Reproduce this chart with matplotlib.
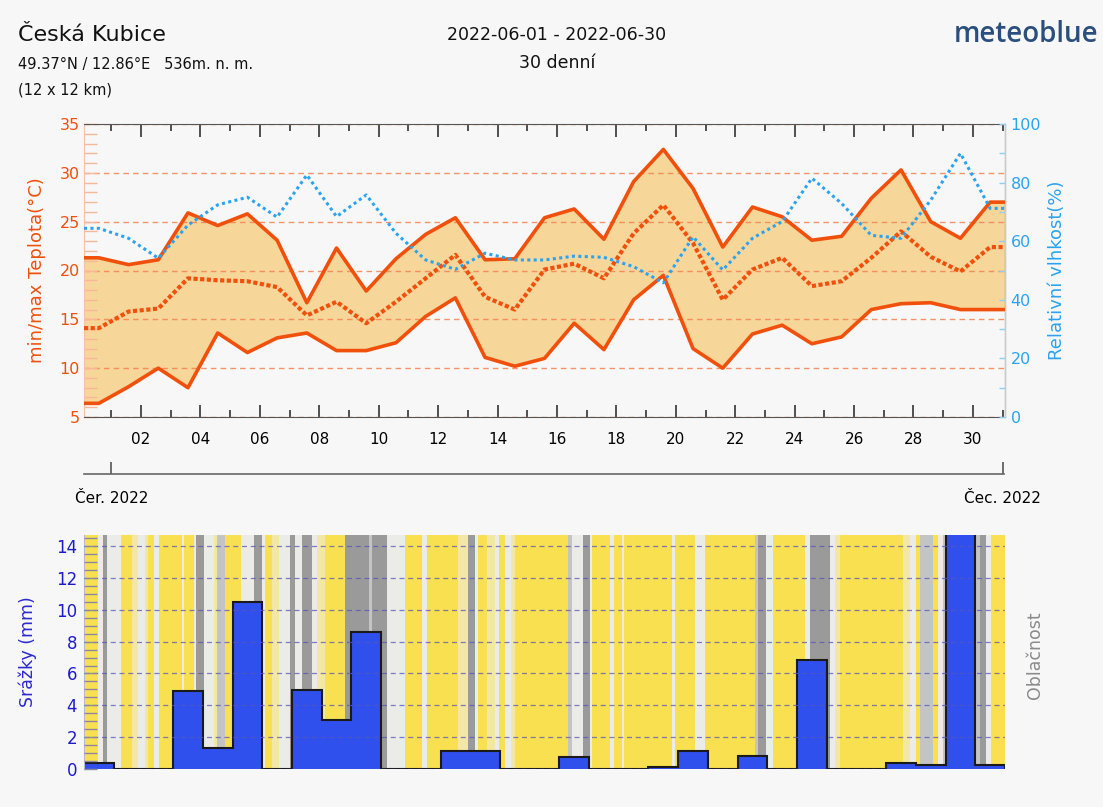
import numpy as np
import matplotlib
matplotlib.use("Agg")
import matplotlib.pyplot as plt
from matplotlib.ticker import MultipleLocator

# daily values, 31 slots covering the 30-day window (UTC shifted)
t_max = [21.3, 20.6, 21.1, 25.9, 24.6, 25.8, 23.1, 16.7, 22.3, 17.9, 21.2, 23.7, 25.4, 21.1, 21.2, 25.4,
         26.3, 23.2, 29.1, 32.4, 28.4, 22.4, 26.5, 25.5, 23.1, 23.5, 27.4, 30.3, 25.0, 23.3, 27.0]
t_mean = [14.1, 15.8, 16.1, 19.2, 19.0, 18.9, 18.3, 15.4, 16.8, 14.6, 16.8, 19.2, 21.6, 17.3, 16.0, 20.1,
          20.7, 19.2, 23.8, 26.7, 22.8, 17.0, 20.1, 21.3, 18.4, 18.9, 21.3, 24.0, 21.4, 19.9, 22.4]
t_min = [6.4, 8.1, 10.0, 8.0, 13.6, 11.6, 13.1, 13.6, 11.8, 11.8, 12.6, 15.3, 17.2, 11.1, 10.2, 11.0,
         14.6, 11.9, 17.0, 19.5, 12.0, 10.0, 13.5, 14.4, 12.5, 13.2, 16.0, 16.6, 16.7, 16.0, 16.0]
humidity = [64.4, 61.0, 54.2, 65.5, 72.4, 75.0, 68.2, 82.6, 68.4, 75.8, 62.7, 53.6, 50.4, 55.9, 53.6, 53.6,
            54.9, 54.5, 51.3, 45.8, 61.5, 50.2, 61.0, 66.7, 81.5, 72.9, 62.0, 61.0, 74.0, 90.0, 71.2]
precip = [0.36, 0, 0, 4.87, 1.33, 10.5, 0, 4.94, 3.05, 8.58, 0, 0, 1.12, 1.12, 0, 0,
          0.74, 0, 0, 0.11, 1.12, 0, 0.83, 0, 6.87, 0, 0, 0.35, 0.22, 15.0, 0.22]

# cloud cover bands: start (day of June) and class
# 0 clear, 1 few, 2 light, 3 cloudy, 4 overcast
cloud_start = [0.08, 0.554, 0.712, 0.857, 1.339, 1.699, 1.90, 2.146, 2.237, 2.429, 2.618, 3.381, 3.449,
               3.785, 3.863, 4.112, 4.448, 4.56, 4.84, 5.378, 5.795, 6.074, 6.165, 6.41, 6.636, 7.027,
               7.195, 7.42, 7.757, 7.925, 8.205, 8.878, 9.665, 9.777, 10.28, 10.888, 11.45, 11.62, 12.68,
               13.02, 13.24, 13.35, 13.64, 13.92, 14.06, 14.25, 14.45, 14.59, 16.38, 16.5, 16.89, 17.11,
               17.19, 17.79, 17.92, 18.18, 18.26, 19.86, 19.97, 20.65, 20.995, 22.66, 22.77, 23.05, 23.27,
               24.34, 24.51, 25.18, 25.35, 25.52, 27.65, 27.87, 28.1, 28.21, 28.66, 28.83, 29.0, 30.23,
               30.44, 30.61]
cloud_class = [0, 2, 4, 2, 0, 1, 2, 1, 0, 2, 0, 2, 0,
               2, 4, 2, 1, 3, 0, 2, 4, 2, 0, 1, 2, 4,
               2, 4, 2, 1, 0, 4, 3, 4, 2, 0, 2, 0, 1,
               4, 2, 0, 1, 2, 0, 2, 1, 0, 3, 2, 4, 2,
               0, 2, 0, 2, 0, 2, 0, 2, 0, 3, 4, 2, 0,
               2, 4, 2, 1, 0, 1, 2, 0, 3, 0, 2, 3, 4,
               2, 0]
cloud_colors = ['#f8e050', '#f3e7a4', '#ebebe7', '#c4c4c4', '#9a9a9a']

day_ticks = list(range(2, 31, 2))
day_labels = ['%02d' % d for d in day_ticks]

W, H = 1103, 807
BG = '#f7f7f7'
ORANGE = '#f0500c'
BLUE = '#2aa3f0'
x0, x1 = 0.08, 31.08

fig = plt.figure(figsize=(W / 100, H / 100), dpi=100, facecolor=BG)

x = x0 + 0.5 + np.arange(len(t_max))
xe = np.concatenate([[x0], x, [x1]])
edges = x0 + np.arange(len(precip) + 1)


def ext(v):
    return np.concatenate([[v[0]], v, [v[-1]]])


# ---- temperature / humidity panel
ax1 = fig.add_axes([84 / W, 1 - 417 / H, 921 / W, 293 / H])
ax1.set_facecolor(BG)
ax1.fill_between(xe, ext(t_min), ext(t_max), color='#f7d69a', lw=0, zorder=1)
ax1.plot(xe, ext(t_max), color=ORANGE, lw=2.6, zorder=3)
ax1.plot(xe, ext(t_min), color=ORANGE, lw=2.6, zorder=3)
ax1.plot(xe, ext(t_mean), color=ORANGE, lw=3, ls=(0, (1, 0.6)), zorder=3)
ax1.set_xlim(x0, x1)
ax1.set_ylim(5, 35)
ax1.set_xticks(day_ticks)
ax1.set_xticklabels(day_labels)
ax1.set_xticks(range(1, 32, 2), minor=True)
ax1.tick_params(axis='x', which='major', direction='in', length=9, width=1.2, color='#333333',
                top=True, bottom=True, labelsize=11, pad=11)
ax1.tick_params(axis='x', which='minor', direction='in', length=5, width=1.2, color='#333333',
                top=True, bottom=True)
ax1.set_yticks(range(5, 36, 5))
ax1.yaxis.set_minor_locator(MultipleLocator(1))
ax1.tick_params(axis='y', which='both', direction='in', length=9, width=1, color='#f8b898',
                labelcolor=ORANGE, labelsize=11.5, pad=3)
ax1.yaxis.grid(True, which='major', color='#f5824f', ls=(0, (4, 3)), lw=1.0, alpha=0.85)
ax1.set_ylabel('min/max Teplota(°C)', color=ORANGE, fontsize=13)
ax1.yaxis.set_label_coords(-0.041, 0.5)
ax1.spines['top'].set_color('#555555')
ax1.spines['bottom'].set_color('#555555')
ax1.spines['left'].set_color('#f8c0a8')

ax1b = ax1.twinx()
ax1b.plot(xe, ext(humidity), color=BLUE, lw=2.2, ls=(0, (1, 1.1)), zorder=4)
ax1b.set_ylim(0, 100)
ax1b.set_yticks(range(0, 101, 20))
ax1b.yaxis.set_minor_locator(MultipleLocator(10))
ax1b.tick_params(axis='y', which='both', direction='in', length=4, width=1, color='#90ccf4',
                 labelcolor=BLUE, labelsize=11.5, pad=4)
ax1b.set_ylabel('Relativní vlhkost(%)', color=BLUE, fontsize=13)
ax1b.yaxis.set_label_coords(1.047, 0.5)
ax1b.spines['right'].set_color('#a8d4f4')
ax1b.spines['left'].set_visible(False)
ax1b.spines['top'].set_visible(False)
ax1b.spines['bottom'].set_visible(False)

# ---- month axis
axd = fig.add_axes([84 / W, 1 - 474 / H, 920 / W, 0.0001])
axd.patch.set_visible(False)
for s in ['top', 'left', 'right']:
    axd.spines[s].set_visible(False)
axd.spines['bottom'].set_color('#666666')
axd.spines['bottom'].set_linewidth(1.2)
axd.set_xlim(x0, 31.05)
axd.set_yticks([])
axd.set_xticks([1, 31])
axd.set_xticklabels(['Čer. 2022', 'Čec. 2022'])
axd.tick_params(axis='x', direction='in', length=9, width=1.2, color='#555555', labelsize=11, pad=12)

# ---- precipitation / cloud panel
ax2 = fig.add_axes([84 / W, 1 - 769 / H, 921 / W, 234 / H])
ax2.set_facecolor(BG)
ends = cloud_start[1:] + [x1]
for s, e, c in zip(cloud_start, ends, cloud_class):
    ax2.axvspan(s, e, color=cloud_colors[c], lw=0, zorder=0)
ax2.stairs(precip, edges, fill=True, color='#3050ee', zorder=1.5)
ax2.stairs(precip, edges, baseline=0, color='#1a1a1a', lw=1.5, zorder=1.6)
ax2.set_xlim(x0, x1)
ax2.set_ylim(0, 14.7)
ax2.set_xticks([])
ax2.set_yticks(range(0, 15, 2))
ax2.yaxis.set_minor_locator(MultipleLocator(0.5))
ax2.tick_params(axis='y', which='both', direction='in', length=9, width=1, color='#8a8a9a',
                labelcolor='#1c1ccf', labelsize=12, pad=5)
ax2.set_axisbelow(False)
ax2.yaxis.grid(True, which='major', color='#5555bb', ls=(0, (4, 3)), lw=0.9, alpha=0.75)
for s in ['top', 'right', 'bottom']:
    ax2.spines[s].set_visible(False)
ax2.spines['left'].set_color('#b8b8d8')
ax2.set_ylabel('Srážky (mm)', color='#2a2ad0', fontsize=12.5)
ax2.yaxis.set_label_coords(-0.051, 0.5)
fig.text(1035 / W, 1 - 655 / H, 'Oblačnost', rotation=90, ha='center', va='center',
         color='#8a8a8a', fontsize=12.5)

# ---- header
fig.text(18 / W, 1 - 35 / H, 'Česká Kubice', fontsize=16, va='center', color='#111111')
fig.text(18 / W, 1 - 64 / H, '49.37°N / 12.86°E   536m. n. m.', fontsize=10.5, va='center', color='#111111')
fig.text(18 / W, 1 - 90 / H, '(12 x 12 km)', fontsize=10.5, va='center', color='#111111')
fig.text(557 / W, 1 - 35 / H, '2022-06-01 - 2022-06-30', fontsize=12.5, ha='center', va='center', color='#111111')
fig.text(557 / W, 1 - 63 / H, '30 denní', fontsize=12.5, ha='center', va='center', color='#111111')
fig.text(1098 / W, 1 - 34 / H, 'meteoblue', fontsize=20, ha='right', va='center', color='#2a4e7e',
         family=['Open Sans', 'DejaVu Sans'], fontweight='semibold')

fig.savefig('out.png', dpi=100, facecolor=BG)
